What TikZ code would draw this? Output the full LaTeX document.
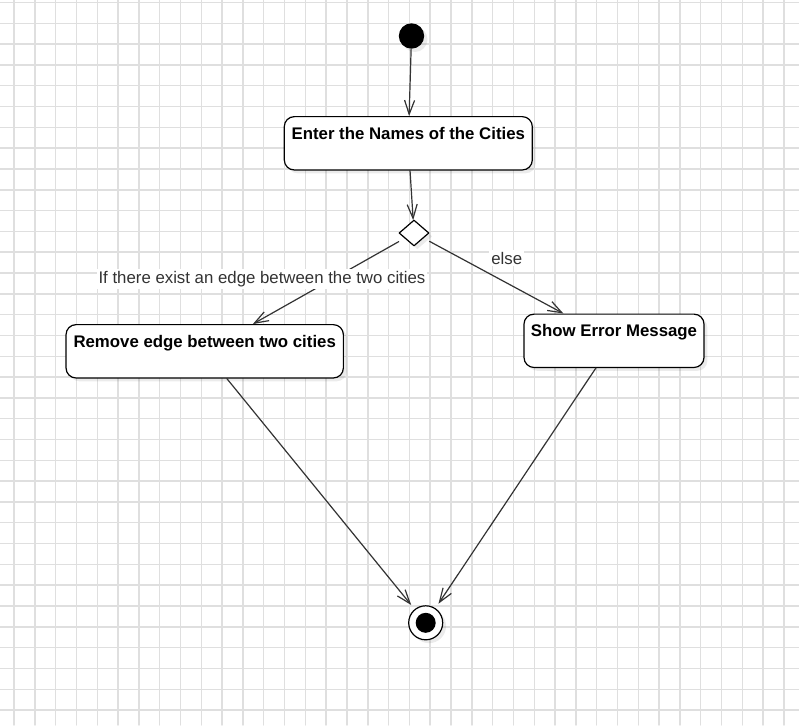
\documentclass[tikz,border=0pt]{standalone}
\usepackage{fontspec}
\setmainfont{Liberation Sans}
\usepackage{tikz}
\usetikzlibrary{arrows.meta}
\usetikzlibrary{positioning}
\usetikzlibrary{shapes.geometric}
\usetikzlibrary{shadows}
\definecolor{dfdfdf}{rgb}{0.875,0.875,0.875}
\definecolor{zzzzzz}{rgb}{0.2,0.2,0.2}
\tikzset{
  gridline/.style={color=dfdfdf,line width=1.1pt},
  flow/.style={->,color=zzzzzz,line width=0.9pt},
  actbox/.style={draw=black,fill=white,line width=0.9pt,rounded corners=7.5pt,
    font=\fontsize{12.6pt}{15pt}\selectfont\bfseries,
    text height=17pt,text depth=23pt,inner ysep=0pt,inner xsep=0pt,
    drop shadow={shadow xshift=2.5pt,shadow yshift=-2.5pt,fill=black,opacity=0.08}},
  decision/.style={diamond,draw=black,fill=white,line width=0.9pt,inner sep=0pt,
    minimum width=22.5pt,minimum height=19.5pt,
    drop shadow={shadow xshift=2.5pt,shadow yshift=-2.5pt,fill=black,opacity=0.08}},
  startdot/.style={circle,fill=black,inner sep=0pt,minimum size=19pt,
    drop shadow={shadow xshift=2.5pt,shadow yshift=-2.5pt,fill=black,opacity=0.08}},
  enddot/.style={circle,draw=black,fill=white,line width=0.9pt,inner sep=0pt,minimum size=25.5pt,
    drop shadow={shadow xshift=2.5pt,shadow yshift=-2.5pt,fill=black,opacity=0.08}},
  endcore/.style={circle,fill=black,inner sep=0pt,minimum size=15pt},
  guard/.style={fill=white,inner sep=1.5pt,text=zzzzzz,font=\fontsize{12.6pt}{15pt}\selectfont}
}
\begin{document}
\begin{tikzpicture}[line cap=round,line join=round,>={Straight Barb[length=10.5pt,width=7.5pt]},x=0.75pt,y=-0.75pt]
\useasboundingbox (0,0) rectangle (799,725);
\fill [white] (0,0) rectangle (799,725);
\foreach \k in {0,...,37} \draw [gridline] ({14+20.81*\k},0) -- ({14+20.81*\k},725);
\foreach \k in {0,...,34} \draw [gridline] (0,{2.5+20.81*\k}) -- (799,{2.5+20.81*\k});
\node [startdot] (start) at (411.5,36) {};
\node [actbox,minimum width=186pt] (enter) at (408.3,143.3) {Enter the Names of the Cities};
\node [decision] (choice) at (414,233) {};
\node [actbox,minimum width=208pt] (remove) at (204.7,351.3) {Remove edge between two cities};
\node [actbox,minimum width=135pt] (error) at (614,340.8) {Show Error Message};
\node [enddot] (stop) at (425.7,622.8) {};
\node [endcore] (stopcore) at (stop) {};
\draw [flow] (start) -- (enter);
\draw [flow] (enter) -- (choice);
\draw [flow,shorten <=5pt] (choice) -- (remove);
\draw [flow,shorten <=5pt] (choice) -- (error);
\draw [flow,shorten >=4pt] (remove) -- (stop);
\draw [flow,shorten >=4pt] (error) -- (stop);
\node [guard] (guardyes) at (262,279.3) {If there exist an edge between the two cities};
\node [guard] (guardelse) at (506.7,258.3) {else};
\end{tikzpicture}
\end{document}
